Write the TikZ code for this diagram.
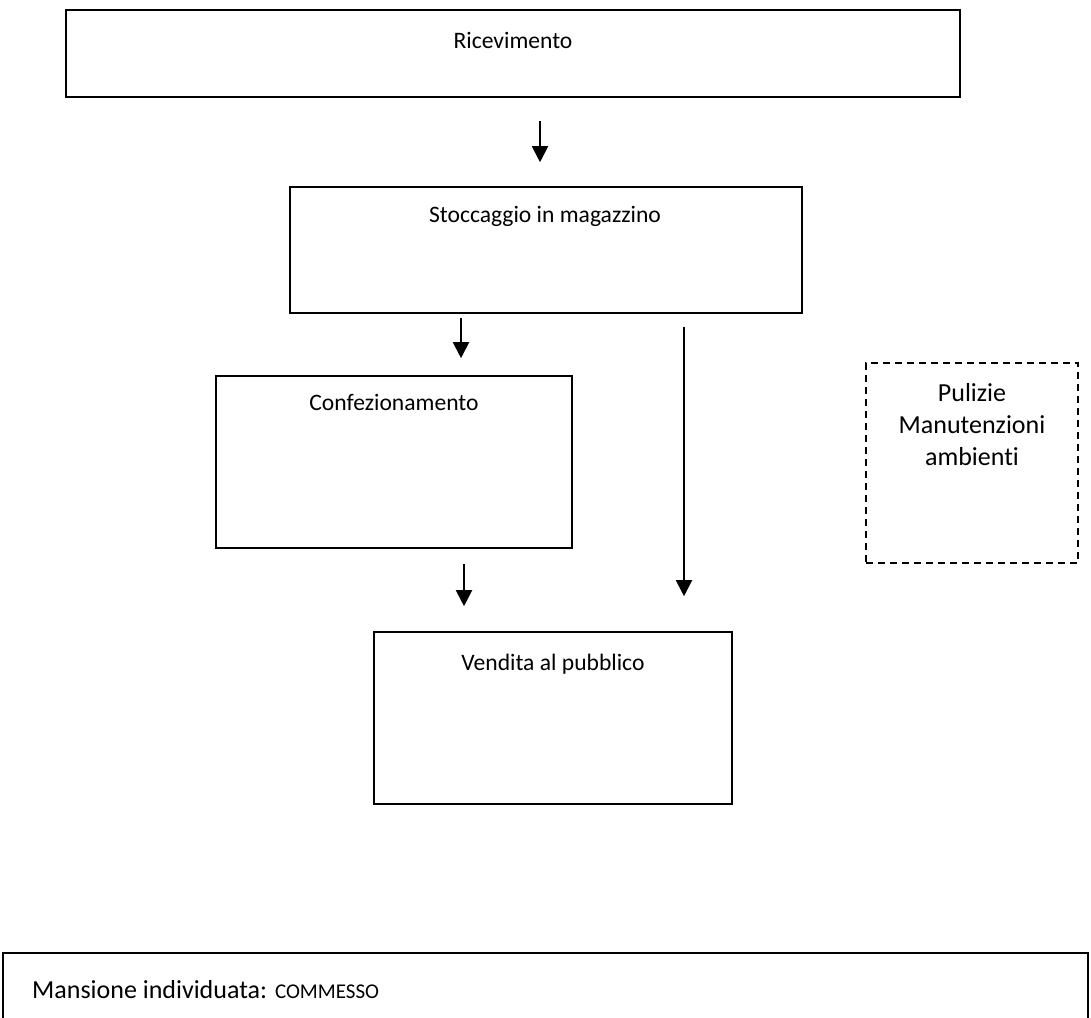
\documentclass[tikz,border=0pt]{standalone}
\usepackage{fontspec}
\setmainfont{Carlito}[Ligatures={NoCommon}]
\usetikzlibrary{arrows.meta,calc}
\tikzset{
  box/.style={draw=black, line width=1.6pt, inner sep=0pt},
  dbox/.style={draw=black, line width=1.6pt, dash pattern=on 7pt off 5pt, inner sep=0pt},
  lbl/.style={inner sep=0pt, anchor=base, font=\fontsize{23.6}{28}\selectfont},
  arr/.style={line width=2pt, -{Triangle[width=16pt,length=16pt]}}
}
\begin{document}
\begin{tikzpicture}[x=1pt,y=-1pt]
\useasboundingbox (0,0) rectangle (1091,1017);
\fill[white] (0,0) rectangle (1091,1017);
% boxes
\node[box, minimum width=894pt, minimum height=87pt] (ric) at (513,53.5) {};
\node[box, minimum width=512pt, minimum height=126pt] (sto) at (546,250) {};
\node[box, minimum width=356pt, minimum height=172pt] (conf) at (394,462) {};
\node[box, minimum width=358pt, minimum height=172pt] (ven) at (553,718) {};
\node[dbox, minimum width=212pt, minimum height=200pt] (pul) at (972,463) {};
% labels
\node[lbl] (ricT) at (513,48) {Ricevimento};
\node[lbl] (stoT) at (545,222) {Stoccaggio in magazzino};
\node[lbl] (confT) at (394,410) {Confezionamento};
\node[lbl] (venT) at (553,670) {Vendita al pubblico};
\node[inner sep=0pt, align=center, font=\fontsize{26}{32}\selectfont] (pulT) at (972,425) {Pulizie\\Manutenzioni\\ambienti};
% arrows
\coordinate (a1) at (540,0);
\coordinate (a2) at (461,0);
\coordinate (a3) at (684,0);
\coordinate (a4) at (464,0);
\draw[arr, shorten <=23pt, shorten >=24pt] (a1 |- ric.south) -- (a1 |- sto.north);
\draw[arr, shorten <=4pt, shorten >=17pt] (a2 |- sto.south) -- (a2 |- conf.north);
\draw[arr, shorten <=13pt, shorten >=35pt] (a3 |- sto.south) -- (a3 |- ven.north);
\draw[arr, shorten <=15pt, shorten >=25pt] (a4 |- conf.south) -- (a4 |- ven.north);
% bottom box
\begin{scope}
\clip (0,0) rectangle (1091,1017);
\node[box, minimum width=1085pt, minimum height=100pt] (man) at (545.5,1003) {};
\end{scope}
\node[inner sep=0pt, anchor=base west] (manT) at (32,998) {\fontsize{26}{30}\selectfont Mansione individuata: \fontsize{21}{26}\selectfont COMMESSO};
\end{tikzpicture}
\end{document}
